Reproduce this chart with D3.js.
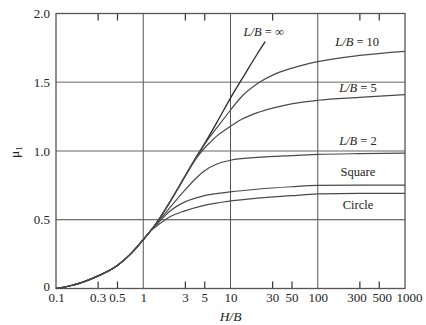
<!DOCTYPE html>
<html>
<head>
<meta charset="utf-8">
<script src="https://cdn.jsdelivr.net/npm/d3@7"></script>
<style>
  body { margin: 0; background: #fff; }
  svg text { font-family: "Liberation Serif", "DejaVu Serif", serif; fill: #222; }
</style>
</head>
<body>
<div id="chart"></div>
<script>

// tick labels
const xLabels = [0.1, 0.3, 0.5, 1, 3, 5, 10, 30, 50, 100, 300, 500, 1000];
const yLabels = [0, 0.5, 1.0, 1.5, 2.0];
const xMinorBottom = [0.3, 0.5, 3, 5, 30, 50, 300, 500];
const xMinorTop = [0.3, 0.5, 3, 5, 30, 300, 500];
const xGrid = [1, 10, 100];
const yGrid = [0.5, 1.0, 1.5];

// part that all curves share, [H/B, mu1]
const common = [[0.1, 0], [0.15, 0.022], [0.2, 0.045], [0.3, 0.09], [0.5, 0.165],
                [0.7, 0.245], [1, 0.355], [1.2, 0.415]];

const lbInf = common.concat([[1.5, 0.5], [2, 0.625], [3, 0.815], [4, 0.95], [5, 1.05],
                [7, 1.21], [10, 1.385], [15, 1.57], [20, 1.7], [25, 1.795]]);

const lb10 = common.concat([[1.5, 0.5], [2, 0.625], [3, 0.815], [4, 0.95], [5, 1.045],
                [6, 1.115], [7, 1.17], [9, 1.26], [13.3, 1.393], [21.5, 1.5], [30, 1.55],
                [52, 1.605], [100, 1.65], [300, 1.695], [1000, 1.725]]);

const lb5 = common.concat([[1.5, 0.5], [2, 0.625], [3, 0.812], [4, 0.94], [5, 1.02],
                [6, 1.07], [7, 1.11], [9, 1.16], [13.3, 1.229], [21.5, 1.284], [50, 1.343],
                [100, 1.369], [300, 1.39], [1000, 1.41]]);

const lb2 = common.concat([[1.5, 0.49], [2, 0.585], [3, 0.715], [4, 0.8], [5, 0.855],
                [7, 0.905], [10, 0.933], [20, 0.953], [50, 0.967], [100, 0.975],
                [300, 0.981], [1000, 0.985]]);

const square = common.concat([[1.5, 0.48], [2, 0.56], [3, 0.63], [5, 0.675], [10, 0.703],
                [20, 0.722], [50, 0.74], [100, 0.75], [300, 0.752], [1000, 0.752]]);

const circle = common.concat([[1.5, 0.465], [2, 0.52], [3, 0.565], [5, 0.605], [10, 0.637],
                [20, 0.657], [50, 0.675], [100, 0.688], [300, 0.692], [1000, 0.692]]);

const series = [lbInf, lb10, lb5, lb2, square, circle];

// curve labels, placed in data units
const curveLabels = [
  {name: "L/B", rest: " = \u221e", x: 24, y: 1.836},
  {name: "L/B", rest: " = 10", x: 283, y: 1.764},
  {name: "L/B", rest: " = 5", x: 289, y: 1.429},
  {name: "L/B", rest: " = 2", x: 289, y: 1.044},
  {name: "", rest: "Square", x: 289, y: 0.818},
  {name: "", rest: "Circle", x: 289, y: 0.578}
];

// the crowded labels at the right end are nudged apart in the original
const labelNudge = {300: -3, 500: 3, 1000: 4};

const width = 426;
const height = 325;

const svg = d3.select('#chart').append('svg')
  .attr('width', width)
  .attr('height', height);

const x = d3.scaleLog().domain([0.1, 1000]).range([56, 405]);
const y = d3.scaleLinear().domain([0, 2]).range([288.5, 13.5]);

// grid
svg.append('g')
  .selectAll('line')
  .data(yGrid)
  .enter()
  .append('line')
  .attr('x1', x(0.1))
  .attr('x2', x(1000))
  .attr('y1', d => y(d))
  .attr('y2', d => y(d))
  .attr('stroke', d => d == 0.5 ? '#444' : '#999')
  .attr('stroke-width', d => d == 0.5 ? 1 : 1.4);

svg.append('g')
  .selectAll('line')
  .data(xGrid)
  .enter()
  .append('line')
  .attr('x1', d => x(d))
  .attr('x2', d => x(d))
  .attr('y1', y(0))
  .attr('y2', y(2))
  .attr('stroke', '#555')
  .attr('stroke-width', 1);

// tick labels
const xAxis = svg.append('g')
  .attr('transform', 'translate(0,' + y(0) + ')')
  .call(d3.axisBottom(x).tickValues(xLabels).tickFormat(d => String(d)).tickSize(0).tickPadding(4));

xAxis.selectAll('text')
  .attr('dx', d => labelNudge[d] || 0);

const yAxis = svg.append('g')
  .attr('transform', 'translate(' + x(0.1) + ',0)')
  .call(d3.axisLeft(y).tickValues(yLabels).tickFormat(d => d == 0 ? '0' : d3.format('.1f')(d)).tickSize(0).tickPadding(6));

// keep the zero clear of the 0.1 below it
yAxis.selectAll('text')
  .attr('dy', d => d == 0 ? '0.12em' : '0.32em');

[xAxis, yAxis].forEach(function (a) {
  a.select('.domain').remove();
  a.selectAll('text')
    .attr('font-family', '"Liberation Serif", serif')
    .attr('font-size', 13)
    .attr('fill', '#222');
});

// inward ticks
const tb = svg.append('g')
  .attr('transform', 'translate(0,' + y(0) + ')')
  .call(d3.axisBottom(x).tickValues(xMinorBottom).tickFormat('').tickSize(-7));
const tt = svg.append('g')
  .attr('transform', 'translate(0,' + y(2) + ')')
  .call(d3.axisTop(x).tickValues(xMinorTop).tickFormat('').tickSize(-7));
[tb, tt].forEach(function (a) {
  a.select('.domain').remove();
  a.selectAll('line').attr('stroke', '#333').attr('stroke-width', 1.2);
});

// frame
svg.append('rect')
  .attr('x', x(0.1))
  .attr('y', y(2))
  .attr('width', x(1000) - x(0.1))
  .attr('height', y(0) - y(2))
  .attr('fill', 'none')
  .attr('stroke', '#555')
  .attr('stroke-width', 1.3);

// curves
const line = d3.line()
  .x(d => x(d[0]))
  .y(d => y(d[1]))
  .curve(d3.curveMonotoneX);

svg.append('g')
  .selectAll('path')
  .data(series)
  .enter()
  .append('path')
  .attr('d', line)
  .attr('fill', 'none')
  .attr('stroke', (d, i) => i == 0 ? '#2a2a2a' : '#4a4a4a')
  .attr('stroke-width', (d, i) => i == 0 ? 1.3 : 1.2);

// curve labels
const lab = svg.append('g')
  .selectAll('text')
  .data(curveLabels)
  .enter()
  .append('text')
  .attr('x', d => x(d.x))
  .attr('y', d => y(d.y))
  .attr('text-anchor', 'middle')
  .attr('font-size', 12.5);

lab.append('tspan')
  .attr('font-style', 'italic')
  .text(d => d.name);
lab.append('tspan')
  .text(d => d.rest);

// axis titles
svg.append('text')
  .attr('x', x(10))
  .attr('y', 321)
  .attr('text-anchor', 'middle')
  .attr('font-size', 13.5)
  .attr('font-style', 'italic')
  .text('H/B');

const yt = svg.append('text')
  .attr('transform', 'translate(19,152) rotate(-90)')
  .attr('text-anchor', 'middle')
  .attr('font-size', 13.5);
yt.append('tspan').text('\u03bc');
yt.append('tspan')
  .attr('font-size', 9)
  .attr('dy', 3)
  .text('1');

</script>
</body>
</html>
